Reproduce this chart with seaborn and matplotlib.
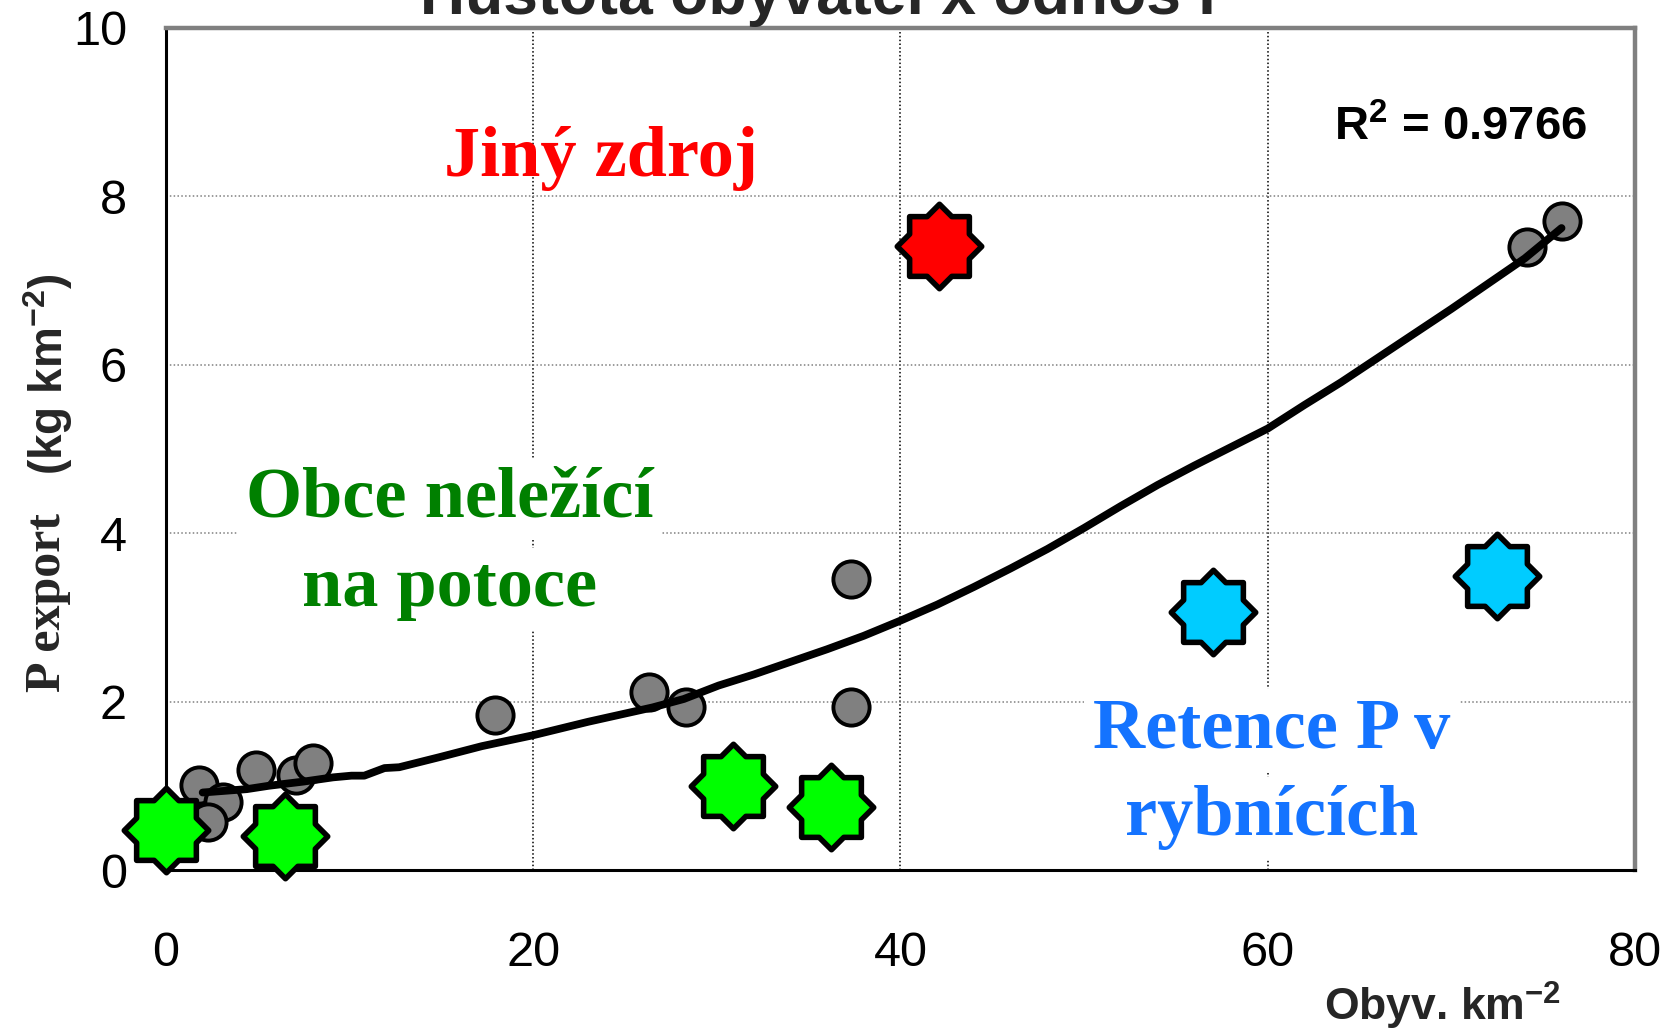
import numpy as np
import seaborn as sns
import matplotlib
matplotlib.use("Agg")
import matplotlib.pyplot as plt
from matplotlib.path import Path
from matplotlib.markers import MarkerStyle

# obce (šedé body)
obce_x = [1.8, 3.1, 2.3, 4.9, 7.1, 8.0, 17.9, 26.3, 28.3, 37.3, 37.3, 74.1, 76.0]
obce_y = [1.01, 0.81, 0.57, 1.19, 1.13, 1.27, 1.84, 2.11, 1.94, 3.45, 1.94, 7.40, 7.70]

# obce neležící na potoce
green_x = [0.0, 6.5, 30.9, 36.2]
green_y = [0.47, 0.40, 1.00, 0.75]

# jiný zdroj
red_x = [42.1]
red_y = [7.41]

# retence P v rybnících
blue_x = [57.0, 72.5]
blue_y = [3.06, 3.49]

# trend
trend_x = [2.0, 4.4, 5.6, 7.5, 9.1, 10.1, 10.8, 11.9, 12.7, 14.9, 17.2, 20.0, 23.0,
           26.5, 28.2, 30.1, 32.0, 34.0, 36.0, 38.0, 40.0, 42.0, 44.0, 46.0, 48.0,
           50.0, 52.0, 54.0, 56.0, 58.0, 60.0, 62.0, 64.0, 66.0, 68.0, 70.0, 72.0,
           74.0, 76.0]
trend_y = [0.92, 0.96, 1.00, 1.05, 1.10, 1.12, 1.12, 1.21, 1.22, 1.34, 1.47, 1.60, 1.76,
           1.93, 2.03, 2.19, 2.32, 2.47, 2.62, 2.78, 2.96, 3.15, 3.36, 3.58, 3.81,
           4.06, 4.32, 4.57, 4.80, 5.02, 5.24, 5.52, 5.79, 6.08, 6.37, 6.66, 6.96,
           7.26, 7.62]

x_ticks = [0, 20, 40, 60, 80]
y_ticks = [0, 2, 4, 6, 8, 10]


def star8():
    ang = np.deg2rad(np.arange(16) * 22.5)
    r = np.where(np.arange(16) % 2 == 0, 1.0, 0.765)
    verts = np.column_stack([r * np.cos(ang), r * np.sin(ang)])
    verts = np.vstack([verts, verts[:1]])
    codes = [Path.MOVETO] + [Path.LINETO] * 15 + [Path.CLOSEPOLY]
    return MarkerStyle(Path(verts, codes))


sns.set_style("white")
plt.rcParams['font.family'] = ['Liberation Sans', 'DejaVu Sans']
plt.rcParams['mathtext.fontset'] = 'custom'
plt.rcParams['mathtext.rm'] = 'Liberation Sans:bold'
plt.rcParams['mathtext.default'] = 'rm'

fig = plt.figure(figsize=(16.68, 10.35), dpi=100)
ax = fig.add_axes([0.0995, 0.1594, 0.8807, 0.8140])

ax.xaxis.grid(True, color='black', linestyle=(0, (1, 1.5)), linewidth=1.1)
ax.yaxis.grid(True, color='#808080', linestyle=(0, (1, 1.5)), linewidth=1.1)
ax.set_axisbelow(True)

star = star8()
sns.scatterplot(x=obce_x, y=obce_y, ax=ax, s=680, color='#808080',
                edgecolor='black', linewidth=2.8, zorder=3, clip_on=False)
sns.lineplot(x=trend_x, y=trend_y, ax=ax, color='black', linewidth=5.6, zorder=4)
for xs, ys, col in [(green_x, green_y, '#00FF00'), (red_x, red_y, '#FF0000'),
                    (blue_x, blue_y, '#00CCFF')]:
    sns.scatterplot(x=xs, y=ys, ax=ax, marker=star, s=3700, color=col,
                    edgecolor='black', linewidth=4.0, zorder=5, clip_on=False)

ax.set_xlim(0, 80)
ax.set_ylim(0, 10)
ax.set_xticks(x_ticks)
ax.set_yticks(y_ticks)
ax.set_xticklabels([str(t) for t in x_ticks])
ax.set_yticklabels([str(t) for t in y_ticks])
ax.tick_params(axis='both', direction='out', length=12, width=2, labelsize=35,
               color='black', labelcolor='black')
ax.tick_params(axis='y', pad=16)
ax.tick_params(axis='x', pad=32)
ax.set_xlabel('')
ax.set_ylabel('')

for side in ['left', 'bottom']:
    ax.spines[side].set_color('black')
    ax.spines[side].set_linewidth(2.2)
for side in ['top', 'right']:
    ax.spines[side].set_color('#808080')
    ax.spines[side].set_linewidth(3.2)

serif = ['Liberation Serif', 'DejaVu Serif']
ax.text(23.7, 8.24, 'Jiný zdroj', color='#FF0000', fontsize=52, fontweight='bold',
        family=serif, ha='center', va='baseline', zorder=6)
box = dict(facecolor='white', edgecolor='none', pad=6)
ax.text(15.46, 4.2, 'Obce neležící', color='#008000', fontsize=52, fontweight='bold',
        family=serif, ha='center', va='baseline', bbox=box, zorder=2)
ax.text(15.46, 3.13, 'na potoce', color='#008000', fontsize=52, fontweight='bold',
        family=serif, ha='center', va='baseline', bbox=box, zorder=2)
ax.text(60.2, 1.45, 'Retence P v', color='#1473FF', fontsize=52, fontweight='bold',
        family=serif, ha='center', va='baseline', bbox=box, zorder=2)
ax.text(60.2, 0.41, 'rybnících', color='#1473FF', fontsize=52, fontweight='bold',
        family=serif, ha='center', va='baseline', bbox=box, zorder=2)

ax.text(77.4, 8.66, 'R$^{2}$ = 0.9766', fontsize=34, fontweight='bold', color='black',
        ha='right', va='baseline', zorder=6)

fig.text(0.4976, 0.9865, 'Hustota obyvatel x odnos P', fontsize=45, fontweight='bold',
         ha='center', va='baseline')
fig.text(0.865, 0.0135, 'Obyv. km$^{-2}$', fontsize=32, fontweight='bold',
         ha='center', va='baseline')
fig.text(0.029, 0.4174, 'P export', fontsize=36, fontweight='bold', family=serif,
         rotation=90, ha='center', va='center')
fig.text(0.029, 0.6386, '(kg km$^{-2}$)', fontsize=33, fontweight='bold',
         rotation=90, ha='center', va='center')

fig.savefig('out.png', dpi=100)
